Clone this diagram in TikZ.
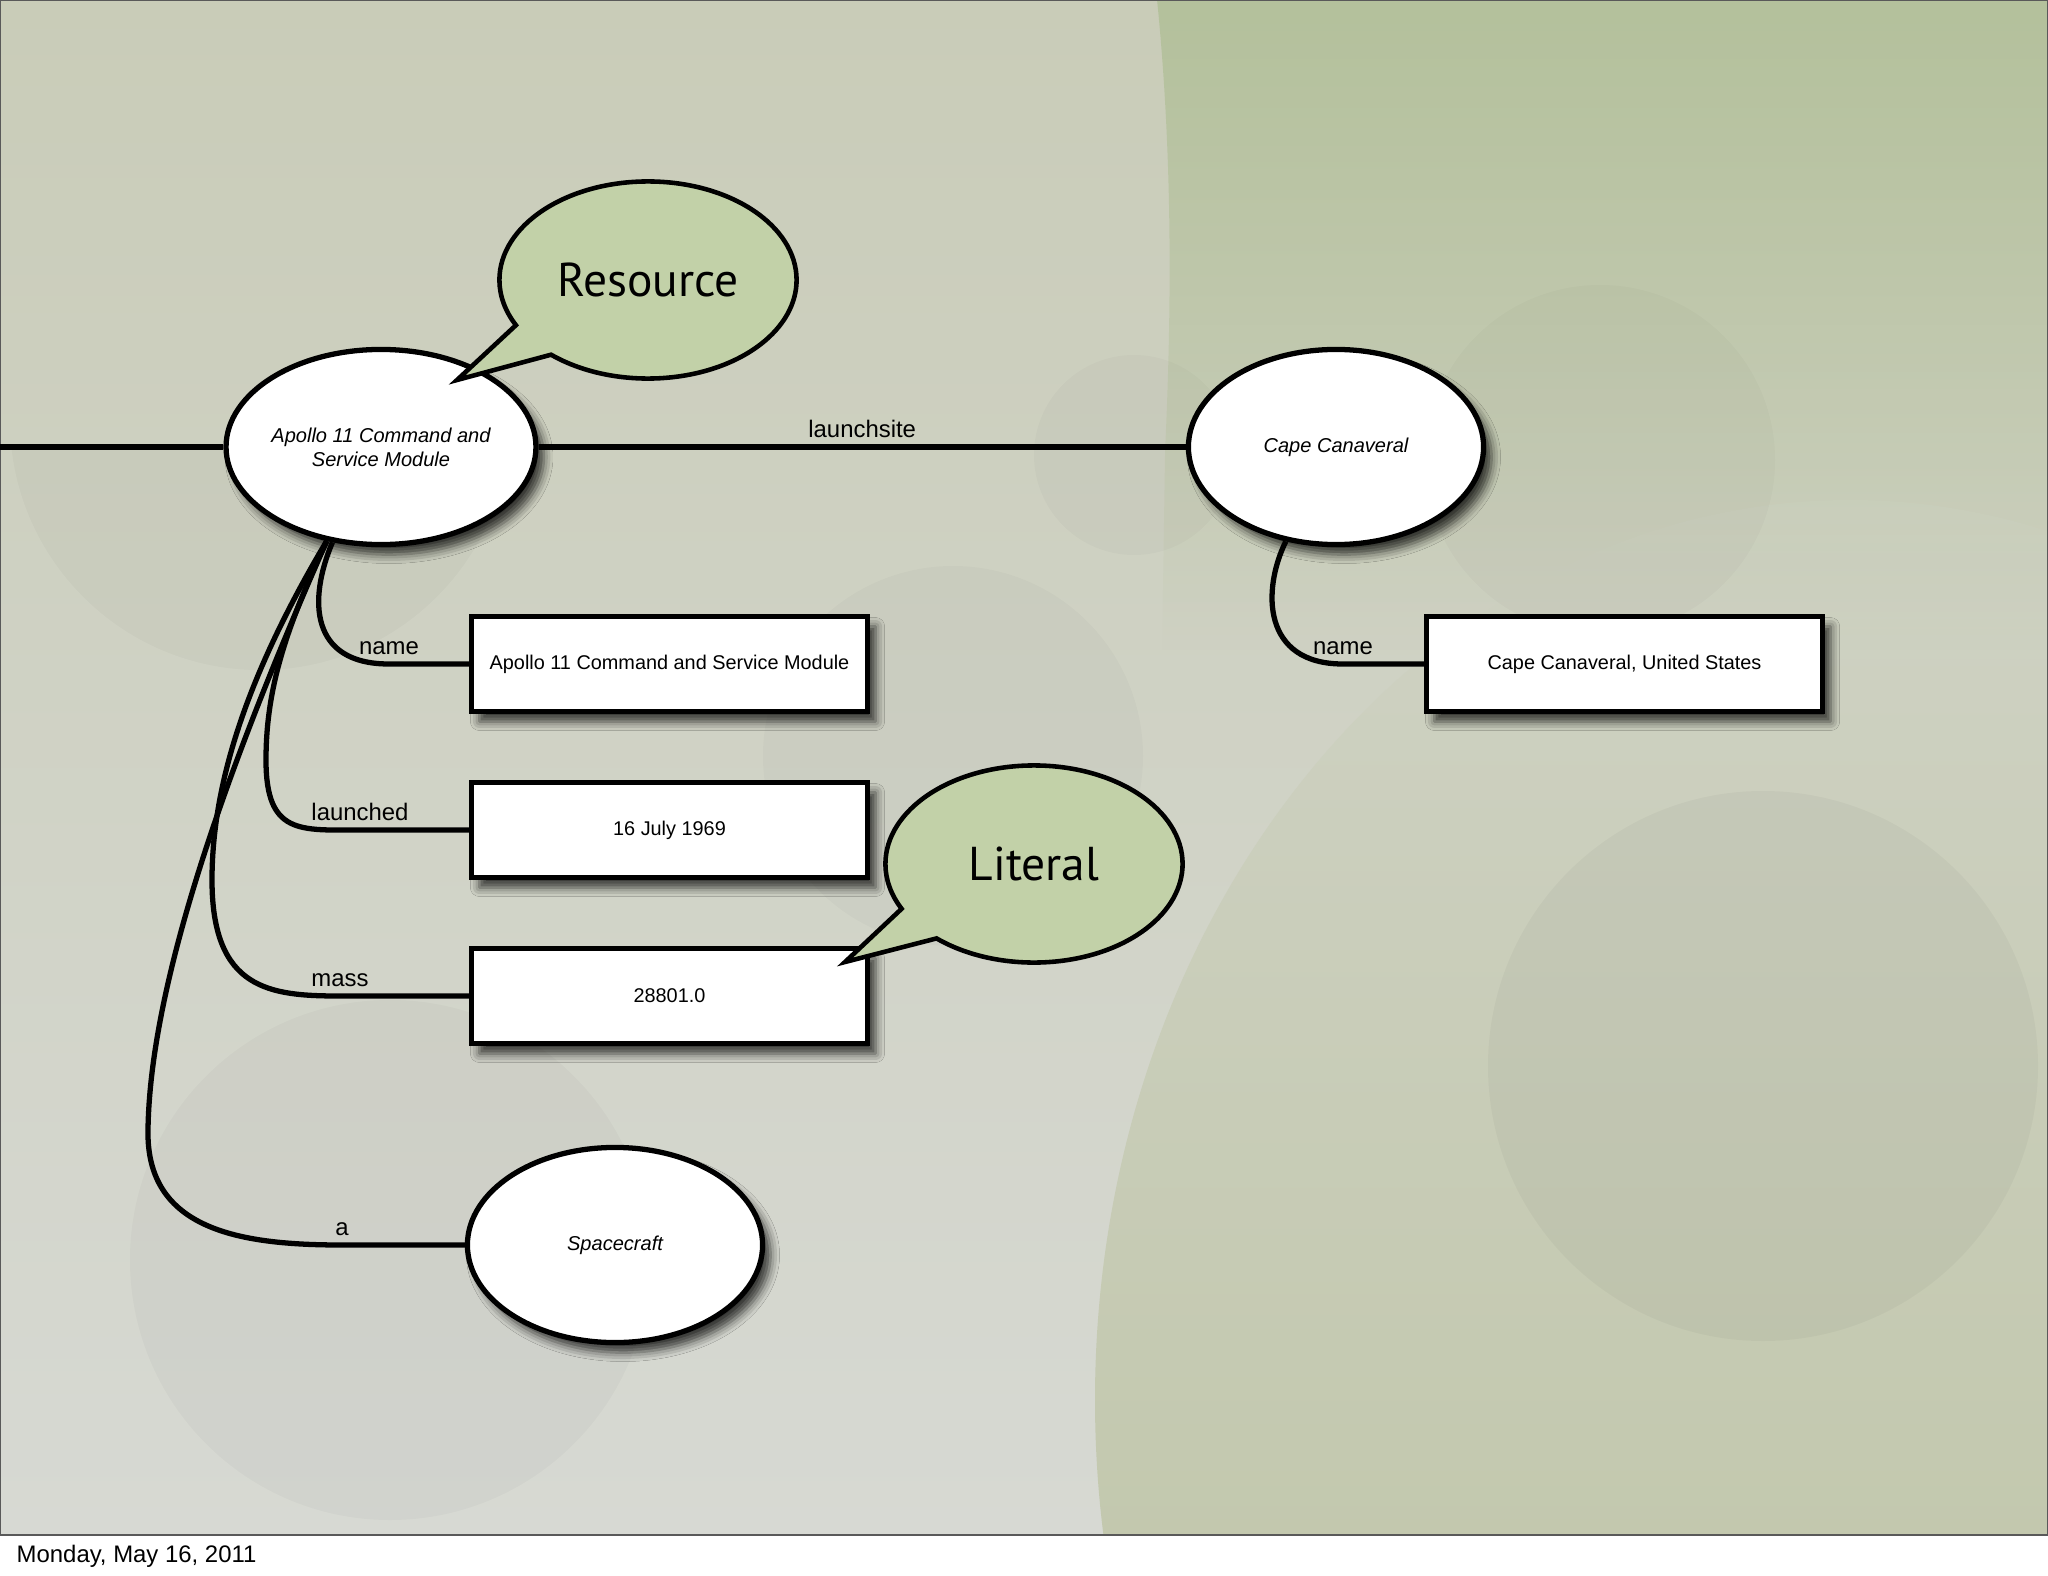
\documentclass[tikz,border=0pt]{standalone}
\usepackage{fontspec}
\setmainfont{Liberation Sans}
\newfontfamily\bubblefont{PT Sans}
\usetikzlibrary{shapes.geometric,shapes.callouts,shadows.blur,fadings}

\definecolor{slidegreen}{RGB}{180,193,156}
\definecolor{slidetop}{RGB}{201,204,184}
\definecolor{slidebottom}{RGB}{215,217,211}
\definecolor{lowlight}{RGB}{207,210,196}
\definecolor{lowgreen}{RGB}{186,193,158}
\definecolor{bubblefill}{RGB}{194,209,168}

\tikzset{
  nodeshadow/.style={blur shadow={shadow xshift=0.08cm, shadow yshift=-0.1cm, shadow blur radius=0.09cm, shadow opacity=75}},
  resnode/.style={ellipse, draw, line width=1.5pt, fill=white, minimum width=2.95cm, minimum height=1.95cm, inner sep=0pt, align=center, font=\fontsize{5.7pt}{6.8pt}\selectfont\itshape, nodeshadow},
  litnode/.style={rectangle, draw, line width=1.5pt, fill=white, minimum width=3.96cm, minimum height=0.95cm, font=\fontsize{5.65pt}{6.8pt}\selectfont, nodeshadow},
  bubble/.style={ellipse callout, draw, line width=1.3pt, fill=bubblefill, minimum width=2.97cm, minimum height=1.97cm, inner sep=0pt, callout pointer arc=22, font=\bubblefont\fontsize{13.5pt}{16pt}\selectfont},
  edge/.style={line width=1.5pt},
  lbl/.style={anchor=base, yshift=2.6pt, inner sep=0pt, font=\fontsize{6.8pt}{8pt}\selectfont},
  faint/.style={fill=black, fill opacity=#1},
}

\begin{document}
\begin{tikzpicture}[x=0.01cm, y=-0.01cm]
\useasboundingbox (0,0) rectangle (2048,1576);
\fill[white] (0,0) rectangle (2048,1576);

\begin{scope}
\clip (0,0) rectangle (2048,1535);
\shade[top color=slidetop, bottom color=slidebottom] (0,0) rectangle (2048,1535);
\shade[top color=lowlight, bottom color=lowgreen] (1850,1400) ellipse [x radius=755, y radius=900];
\fill[slidegreen, path fading=south] (1157,0) .. controls (1172,150) and (1172,300) .. (1165,450) -- (1162,650) -- (2048,650) -- (2048,0) -- cycle;
\fill[faint=0.03] (1763,1066) circle [radius=275];
\fill[faint=0.02] (1600,460) circle [radius=175];
\fill[faint=0.02] (1134,455) circle [radius=100];
\fill[faint=0.02] (953,756) circle [radius=190];
\fill[faint=0.025] (390,1260) circle [radius=260];
\begin{scope}
\clip (0,447) rectangle (700,1000);
\fill[faint=0.025] (260,420) circle [radius=250];
\end{scope}
\end{scope}
\draw[black!65, line width=0.8pt] (0,0) rectangle (2048,1535);

\node[anchor=base west, inner sep=0pt, font=\fontsize{6.8pt}{8pt}\selectfont] (datestamp) at (16,1562) {Monday, May 16, 2011};

\node[resnode] (apollo) at (381,447) {Apollo 11 Command and\\Service Module};
\node[resnode] (cape) at (1336,447) {Cape Canaveral};
\node[resnode] (craft) at (615,1245) {Spacecraft};
\node[litnode] (namebox) at (669.5,664) {Apollo 11 Command and Service Module};
\node[litnode] (datebox) at (669.5,830) {16 July 1969};
\node[litnode] (massbox) at (669.5,996) {28801.0};
\node[litnode] (capebox) at (1624.5,664) {Cape Canaveral, United States};

\coordinate (leftin) at (0,447);
\coordinate (namejoin) at (389,664);
\coordinate (launchjoin) at (360,830);
\coordinate (massjoin) at (340,996);
\coordinate (ajoin) at (342,1245);
\coordinate (capejoin) at (1343,664);

\draw[edge] (leftin) -- (apollo);
\draw[edge] (apollo) -- node[lbl] {launchsite} (cape);
\draw[edge] (apollo.243) .. controls (308,600) and (310,664) .. (namejoin) node[lbl] {name} -- (namebox);
\draw[edge] (apollo.240) .. controls (285,630) and (266,690) .. (266,760) .. controls (266,835) and (300,830) .. (launchjoin) node[lbl] {launched} -- (datebox);
\draw[edge] (apollo.240) .. controls (250,670) and (212,780) .. (212,880) .. controls (212,990) and (270,996) .. (massjoin) node[lbl] {mass} -- (massbox);
\draw[edge] (apollo.240) .. controls (230,760) and (150,980) .. (148,1130) .. controls (146,1230) and (240,1245) .. (ajoin) node[lbl] {a} -- (craft);
\draw[edge] (cape.242) .. controls (1262,590) and (1262,664) .. (capejoin) node[lbl] {name} -- (capebox);

\coordinate (restip) at (457,380);
\coordinate (littip) at (845,962);
\node[bubble, callout absolute pointer={(restip)}] (resbubble) at (648,280) {Resource};
\node[bubble, callout absolute pointer={(littip)}] (litbubble) at (1034,864) {Literal};
\end{tikzpicture}
\end{document}
